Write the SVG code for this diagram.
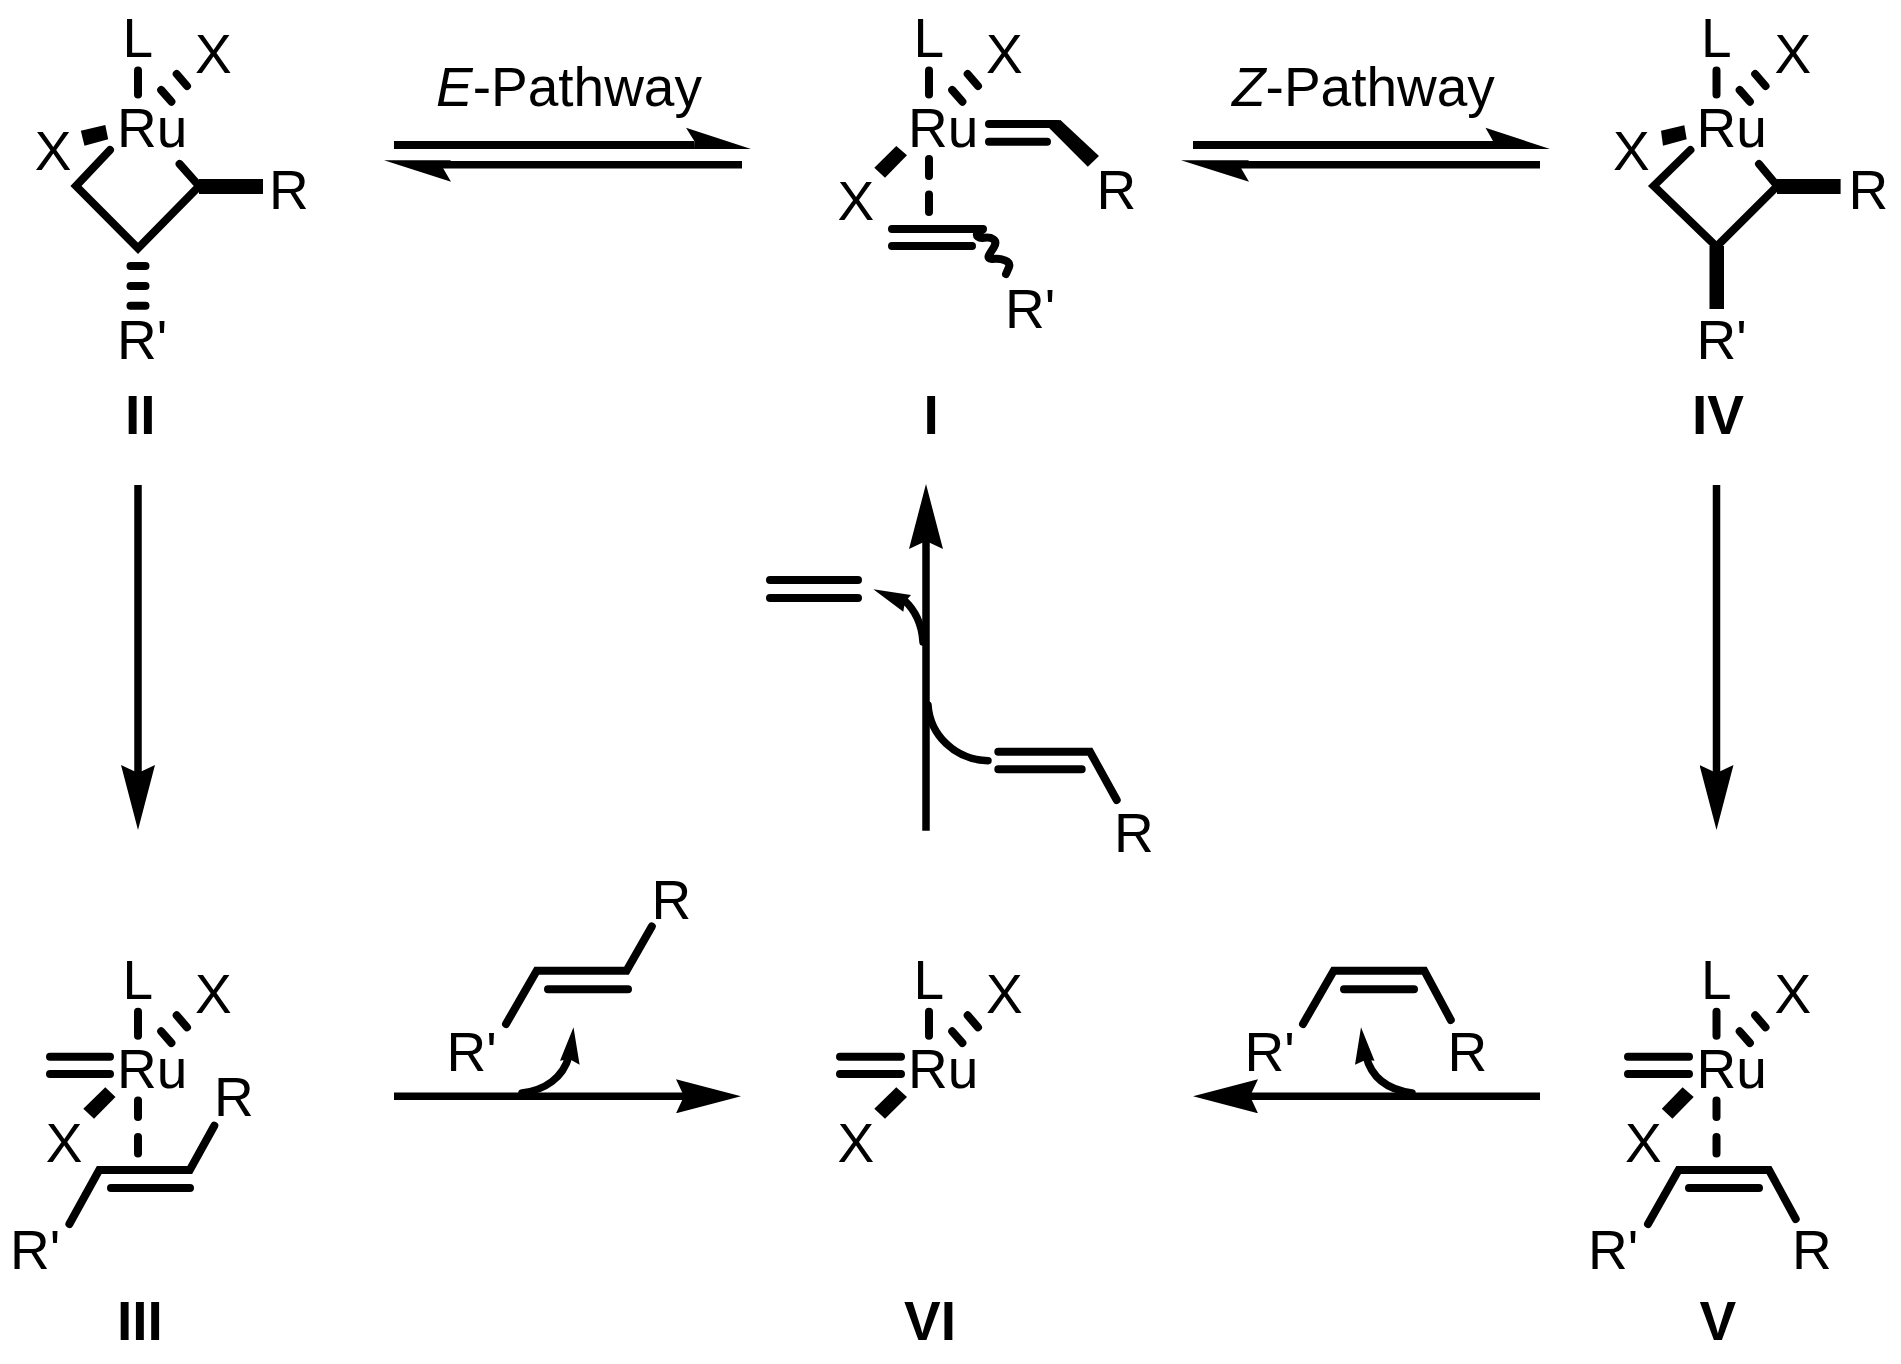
<svg xmlns="http://www.w3.org/2000/svg" width="1901" height="1364" viewBox="0 0 1901 1364">
<style>
text{font-family:"Liberation Sans",Arial,sans-serif;font-size:55px;fill:#000}
.b{font-weight:bold}
.s{fill:none;stroke:#000;stroke-width:8;stroke-linecap:round;stroke-linejoin:miter;stroke-miterlimit:10}
.a{fill:none;stroke:#000;stroke-width:7.5;stroke-linecap:butt}
.c{fill:none;stroke:#000;stroke-width:7.5;stroke-linecap:round}
.f{fill:#000;stroke:none}
</style>
<defs>
<marker id="head" markerUnits="userSpaceOnUse" markerWidth="66" markerHeight="34" refX="8" refY="17" orient="auto" viewBox="0 0 66 34"><path d="M0,0 L65,17 L0,34 L8,17 Z" fill="#000"/></marker>
<g id="lx"><path class="s" d="M138,70.5V94.5M161.2,90L171.4,101.7M176.7,74L187,86"/></g>
</defs>
<rect width="1901" height="1364" fill="#fff"/>
<g id="connectors">
<g id="eq-E">
<rect class="f" x="394" y="141" width="300" height="8"/><polygon class="f" points="686,127.7 751,149 694,149 694.3,141"/>
<rect class="f" x="443" y="161" width="299" height="7.5"/><polygon class="f" points="384,160.3 451,160.3 443,168 451,181.7"/>
</g>
<g id="eq-Z">
<rect class="f" x="1193" y="141" width="300" height="8"/><polygon class="f" points="1485.5,127.7 1550,149 1493,149 1493,141"/>
<rect class="f" x="1241" y="161" width="299" height="7.5"/><polygon class="f" points="1181,160.3 1249,160.3 1241,168 1249,181.7"/>
</g>
<path class="a" marker-end="url(#head)" d="M138,485V773"/>
<path class="a" marker-end="url(#head)" d="M1716.5,485V773"/>
<path class="a" marker-end="url(#head)" d="M926,830.7V541"/>
<path class="a" marker-end="url(#head)" d="M394,1096.3H684"/>
<path class="a" marker-end="url(#head)" d="M1540,1096.3H1250"/>
<path class="c" d="M923,642C922,625 916,611 904,600"/><polygon class="f" points="873.3,589.3 911,595 905,601.7 903.3,611.7"/>
<path class="c" d="M928,705C930,735 955,760 988,760.7"/>
<path class="c" d="M522,1093C545,1090 563,1078 569,1056"/><polygon class="f" points="573.5,1027.3 579.6,1064.7 569.4,1059 560,1060.7"/>
<path class="c" d="M1412,1093C1390,1090 1372,1080 1366,1056"/><polygon class="f" points="1361,1027.3 1374.5,1060.7 1366,1059.7 1355,1064.7"/>
</g>
<g id="label-E"><text x="436" y="106"><tspan font-style="italic">E</tspan>-Pathway</text></g>
<g id="label-Z"><text x="1232" y="106"><tspan font-style="italic">Z</tspan>-Pathway</text></g>
<g id="node-II">
<use href="#lx"/>
<polygon class="f" points="80.8,130.7 105.3,125 108.2,139.3 84.5,145.7"/>
<path class="s" d="M110,150L76,186L138,248.3L199.2,186L179.6,164"/>
<rect class="f" x="199" y="179" width="64" height="15"/>
<path class="s" d="M130.5,266H145.5M130.5,286H145.5M130.5,305.7H145.5"/>
<text x="122.5" y="57.3">L</text><text x="195" y="72.7">X</text><text x="117" y="146.7">Ru</text><text x="34.7" y="170">X</text><text x="269" y="209">R</text><text x="117" y="359.3">R'</text><text class="b" x="125" y="434.3">II</text>
</g>
<g id="node-I">
<use href="#lx" x="791"/>
<polygon class="f" points="896.3,146 907,155.3 885,177.7 874.3,167.7"/>
<path class="s" d="M929,159V176M929,194.5V212M989,124H1058M989,141.7H1047M892,229H983M892,246H972"/>
<polygon class="f" points="1060.4,120 1099,156 1087.8,166.7 1049.4,128.3"/>
<path class="c" style="stroke-width:8" d="M982,230C975,231 975,238 982,238C992,236 998,240 994,247C990,254 985,258 992,259C1002,258 1011,261 1009,267L1006,274"/>
<text x="913.5" y="57.3">L</text><text x="986" y="72.7">X</text><text x="908" y="146.7">Ru</text><text x="837.6" y="220">X</text><text x="1096.5" y="209">R</text><text x="1005" y="328.3">R'</text><text class="b" x="923.4" y="434.3">I</text>
</g>
<g id="node-IV">
<use href="#lx" x="1578.5"/>
<polygon class="f" points="1661,130.7 1684.3,125.3 1686.7,139.3 1663,145.7"/>
<path class="s" d="M1690.4,150L1653.7,186L1716.5,246.7L1777.3,186L1759,164"/>
<rect class="f" x="1777" y="179" width="63.6" height="15"/>
<rect class="f" x="1709.5" y="246" width="14.5" height="63"/>
<text x="1701" y="57.3">L</text><text x="1774.5" y="72.7">X</text><text x="1696.5" y="146.7">Ru</text><text x="1613" y="170">X</text><text x="1848.5" y="209">R</text><text x="1696.5" y="359.3">R'</text><text class="b" x="1692" y="434.3">IV</text>
</g>
<g id="ethylene"><path class="s" d="M770,580H858M770,598H858"/></g>
<g id="alkene-top">
<path class="s" d="M998.3,751.7H1090L1116.7,800M998.3,769.3H1081.7"/>
<text x="1114" y="851.7">R</text>
</g>
<g id="node-III">
<use href="#lx" y="941.3"/>
<path class="s" d="M50,1056.7H110M50,1074H110M138,1100.5V1117M138,1137V1153.5"/>
<polygon class="f" points="105.3,1087.3 115.5,1097 94,1118.7 83.3,1108.7"/>
<path class="s" d="M69.4,1224L99.2,1170H189.8L214.3,1125.7M111,1188H190"/>
<text x="122.5" y="999">L</text><text x="195" y="1013.3">X</text><text x="117" y="1088">Ru</text><text x="45.7" y="1161.7">X</text><text x="214" y="1115.7">R</text><text x="10" y="1269.3">R'</text><text class="b" x="117" y="1339.7">III</text>
</g>
<g id="alkene-E">
<path class="s" d="M506,1024L536.7,970.7H626.5L651.8,926.4M548,989.3H628"/>
<text x="446.5" y="1070.7">R'</text><text x="651.5" y="919">R</text>
</g>
<g id="node-VI">
<use href="#lx" x="791" y="941.3"/>
<path class="s" d="M840,1056.7H901M840,1074H901"/>
<polygon class="f" points="896.3,1087.3 907,1097 885,1118.7 874.3,1108.7"/>
<text x="913.5" y="999">L</text><text x="986" y="1013.3">X</text><text x="908" y="1088">Ru</text><text x="837.6" y="1161.7">X</text><text class="b" x="904" y="1339.7">VI</text>
</g>
<g id="alkene-Z">
<path class="s" d="M1303,1024L1333.7,970.7H1424.3L1450.8,1020M1344,989.3H1414"/>
<text x="1244.5" y="1070.7">R'</text><text x="1447.5" y="1070.7">R</text>
</g>
<g id="node-V">
<use href="#lx" x="1578.5" y="941.3"/>
<path class="s" d="M1628,1056.7H1689M1628,1074H1689M1716.5,1100.5V1117M1716.5,1137V1153.5"/>
<polygon class="f" points="1682.6,1087.3 1693.7,1097 1672.4,1118.7 1661.8,1108.7"/>
<path class="s" d="M1648,1224L1678.6,1170H1769L1795.7,1219M1689,1188H1759"/>
<text x="1701" y="999">L</text><text x="1774.5" y="1013.3">X</text><text x="1696.5" y="1088">Ru</text><text x="1625" y="1161.7">X</text><text x="1588" y="1269.3">R'</text><text x="1792" y="1269.3">R</text><text class="b" x="1699.5" y="1339.7">V</text>
</g>
</svg>
